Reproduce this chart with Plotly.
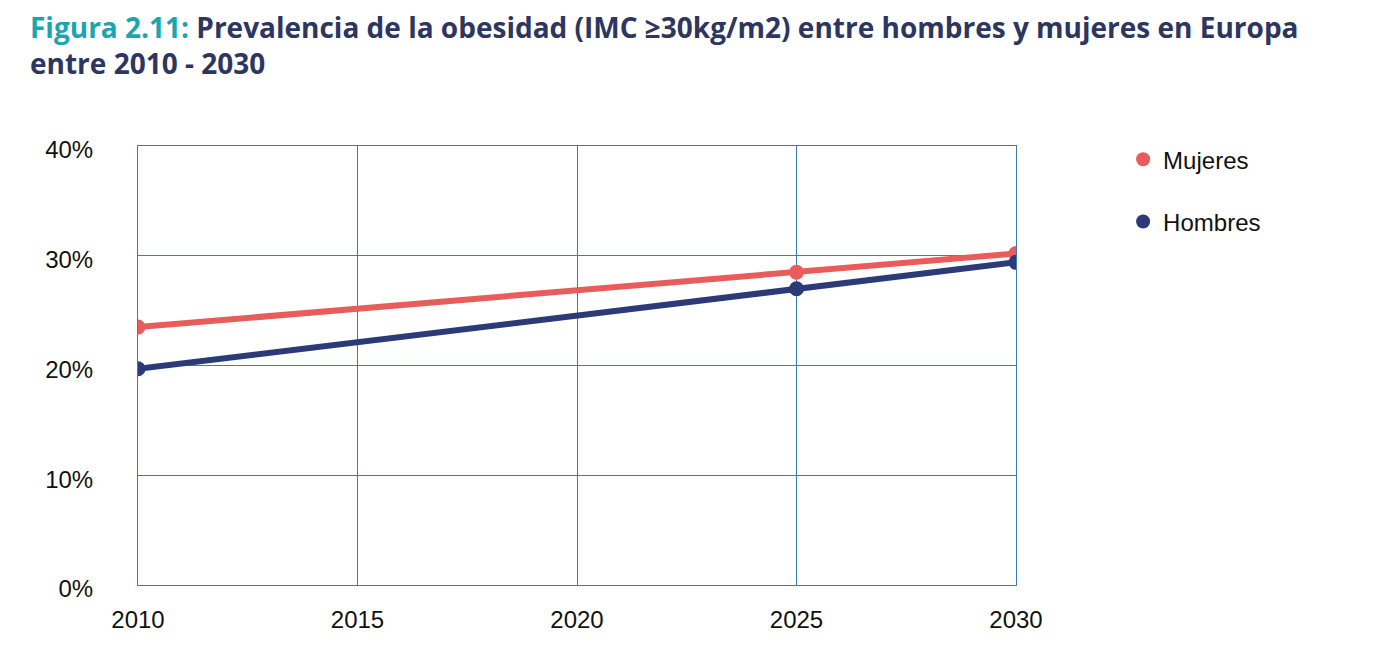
import plotly.graph_objects as go

years = [2010, 2025, 2030]
mujeres = [23.5, 28.5, 30.2]
hombres = [19.7, 27.0, 29.4]
x_ticks = [2010, 2015, 2020, 2025, 2030]
y_ticks = [0, 10, 20, 30, 40]
y_tick_labels = ["0%", "10%", "20%", "30%", "40%"]

title_text = ("<span style='color:#1ba5b0'>Figura 2.11:</span> Prevalencia de la obesidad "
              "(IMC ≥30kg/m2) entre hombres y mujeres en Europa<br>entre 2010 - 2030")

c_muj = "#e95c5c"
c_hom = "#2c3a78"
grid_c = "#3a7bbf"

fig = go.Figure()
fig.add_trace(go.Scatter(x=years, y=mujeres, mode="lines+markers", name="Mujeres",
                         line=dict(color=c_muj, width=6), marker=dict(size=15, color=c_muj),
                         showlegend=False))
fig.add_trace(go.Scatter(x=years, y=hombres, mode="lines+markers", name="Hombres",
                         line=dict(color=c_hom, width=6), marker=dict(size=15, color=c_hom),
                         showlegend=False))
# legend-only marker entries
fig.add_trace(go.Scatter(x=[None], y=[None], mode="markers", name="Mujeres",
                         marker=dict(size=14, color=c_muj), legendgroup="a"))
fig.add_trace(go.Scatter(x=[None], y=[None], mode="markers", name="Hombres",
                         marker=dict(size=14, color=c_hom), legendgroup="b"))

fig.add_annotation(
    text=title_text, xref="paper", yref="paper", x=-0.125, y=1.32,
    xanchor="left", yanchor="top", align="left", showarrow=False,
    font=dict(family="Open Sans, sans-serif", size=28, color="#2d3561", weight="bold"),
)

fig.update_layout(
    width=1390, height=644,
    margin=dict(l=130, r=382, t=138, b=67),
    paper_bgcolor="white", plot_bgcolor="white",
    font=dict(family="Liberation Sans, Arial, sans-serif", size=24, color="#111111"),
    legend=dict(x=1.122, y=1.02, xanchor="left", yanchor="top",
                font=dict(size=24, color="#111111"), tracegroupgap=28,
                traceorder="grouped", itemwidth=30),
    showlegend=True,
)
fig.update_xaxes(range=[2010, 2030], tickvals=x_ticks, showgrid=True, gridcolor=grid_c,
                 gridwidth=1, showline=True, linecolor=grid_c, mirror=True, zeroline=False,
                 ticks="", ticklabelstandoff=13)
fig.update_yaxes(range=[0, 40], tickvals=y_ticks, ticktext=y_tick_labels, showgrid=True,
                 gridcolor=grid_c, gridwidth=1, showline=True, linecolor=grid_c, mirror=True,
                 zeroline=False, ticks="", ticklabelstandoff=39, ticklabelshift=4)

fig.write_html("out.html")
